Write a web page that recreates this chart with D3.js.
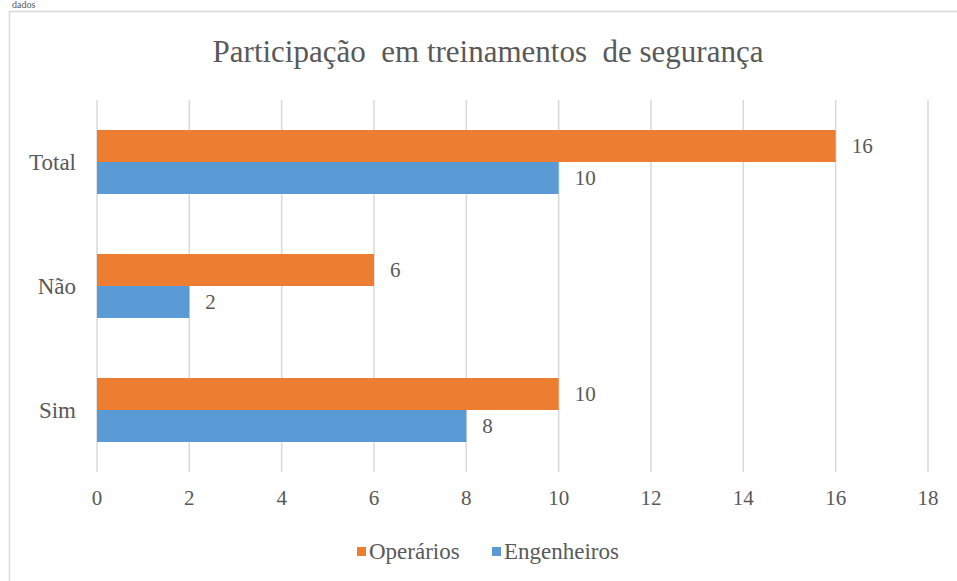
<!DOCTYPE html>
<html>
<head>
<meta charset="utf-8">
<script src="https://cdn.jsdelivr.net/npm/d3@7"></script>
<style>
    body { margin: 0; background: #fff; }
</style>
</head>
<body>
<script>
// Data
var categories = ["Total", "Não", "Sim"];
var seriesNames = ["Operários", "Engenheiros"];
var operarios = [16, 6, 10];
var engenheiros = [10, 2, 8];
var xTicks = [0, 2, 4, 6, 8, 10, 12, 14, 16, 18];
var colors = ["#ED7D31", "#5B9BD5"];

var W = 957, H = 581;
var plot = { left: 97, right: 928, top: 100, bottom: 472 };
var serif = "Times New Roman, Liberation Serif, Tinos, DejaVu Serif, Noto Serif, serif";
var textColor = "#595959";

var svg = d3.select("body").append("svg")
    .attr("width", W)
    .attr("height", H)
    .style("font-family", serif);

// helper for the labels
function label(sel, size) {
    return sel.style("font-family", serif)
        .attr("font-size", size)
        .attr("fill", textColor);
}

// Small text above the chart frame
label(svg.append("text"), 10)
    .attr("x", 12).attr("y", 8)
    .text("dados");

// Chart frame (right and bottom edges are out of the picture)
svg.append("rect")
    .attr("x", 9.5).attr("y", 11.5)
    .attr("width", 970).attr("height", 600)
    .attr("fill", "#fff")
    .attr("stroke", "#d9d9d9")
    .attr("stroke-width", 1.5);

// Scales
var xScale = d3.scaleLinear().domain([0, 18]).range([plot.left, plot.right]);
var yScale = d3.scaleBand().domain(categories).range([plot.top, plot.bottom])
    .paddingInner(0.484).paddingOuter(0.242);
var ySub = d3.scaleBand().domain(seriesNames).range([0, yScale.bandwidth()]);

// Title
label(svg.append("text"), 31)
    .attr("x", 488).attr("y", 62)
    .attr("text-anchor", "middle")
    .style("white-space", "pre")
    .text("Participação  em treinamentos  de segurança");

// Gridlines
svg.append("g").selectAll("line")
    .data(xTicks)
    .enter().append("line")
    .attr("x1", function (d) { return xScale(d); })
    .attr("x2", function (d) { return xScale(d); })
    .attr("y1", plot.top)
    .attr("y2", plot.bottom)
    .attr("stroke", "#d9d9d9")
    .attr("stroke-width", 1.5);

// X axis tick labels
label(svg.append("g").selectAll("text")
    .data(xTicks)
    .enter().append("text"), 21)
    .attr("x", function (d) { return xScale(d); })
    .attr("y", 505)
    .attr("text-anchor", "middle")
    .text(function (d) { return d; });

// Category labels
label(svg.append("g").selectAll("text")
    .data(categories)
    .enter().append("text"), 23)
    .attr("x", 76)
    .attr("y", function (d) { return yScale(d) + yScale.bandwidth() / 2 + 8; })
    .attr("text-anchor", "end")
    .text(function (d) { return d; });

// Bars + value labels
var rows = categories.map(function (c, i) {
    return { cat: c, values: [operarios[i], engenheiros[i]] };
});

var group = svg.append("g").selectAll("g.cat")
    .data(rows)
    .enter().append("g")
    .attr("class", "cat")
    .attr("transform", function (d) { return "translate(0," + yScale(d.cat) + ")"; });

group.selectAll("rect")
    .data(function (d) { return d.values; })
    .enter().append("rect")
    .attr("x", xScale(0))
    .attr("y", function (d, i) { return ySub(seriesNames[i]); })
    .attr("width", function (d) { return xScale(d) - xScale(0); })
    .attr("height", ySub.bandwidth())
    .attr("fill", function (d, i) { return colors[i]; });

label(group.selectAll("text")
    .data(function (d) { return d.values; })
    .enter().append("text"), 21)
    .attr("x", function (d) { return xScale(d) + 16; })
    .attr("y", function (d, i) { return ySub(seriesNames[i]) + ySub.bandwidth() / 2 + 7; })
    .text(function (d) { return d; });

// Legend
var legend = svg.append("g").attr("transform", "translate(357,547)");
var legendX = [0, 135];
seriesNames.forEach(function (name, i) {
    legend.append("rect")
        .attr("x", legendX[i]).attr("y", 0)
        .attr("width", 9).attr("height", 9)
        .attr("fill", colors[i]);
    label(legend.append("text"), 23)
        .attr("x", legendX[i] + 12).attr("y", 12)
        .text(name);
});
</script>
</body>
</html>
